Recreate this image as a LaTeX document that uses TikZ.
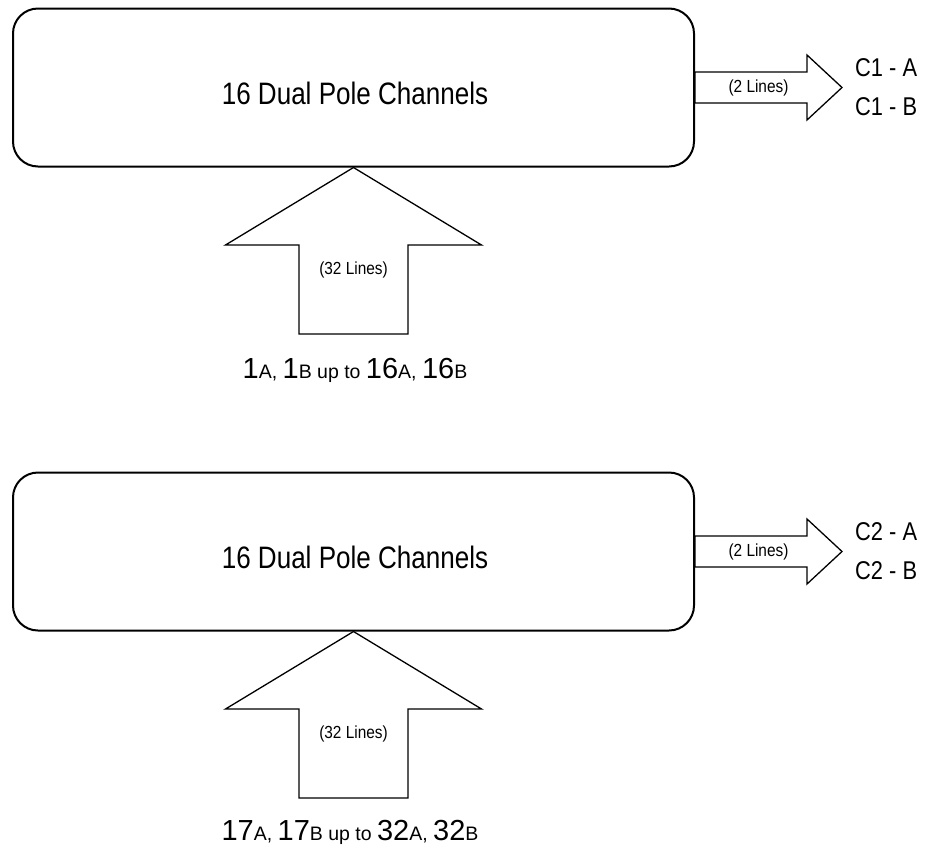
\documentclass[tikz,border=0pt]{standalone}
\usepackage{fontspec}
\setmainfont{Liberation Sans}
\newfontfamily\condtitle[FakeStretch=0.84]{Liberation Sans}
\newfontfamily\condout[FakeStretch=0.85]{Liberation Sans}
\newfontfamily\condsmall[FakeStretch=0.88]{Liberation Sans}
\newcommand\bigdig[1]{{\fontsize{29}{29}\selectfont #1}}
\newcommand\smlet[1]{{\fontsize{19.5}{19.5}\selectfont #1}}
\begin{document}
\begin{tikzpicture}[x=1pt,y=-1pt,
  chbox/.style={draw, line width=2pt, rounded corners=25pt, minimum width=681pt, minimum height=158pt, inner sep=0pt},
  fatarrow/.style={draw, line width=1.3pt, line join=miter, fill=white},
  titletext/.style={anchor=base, inner sep=0pt, font=\condtitle\fontsize{31}{31}\selectfont},
  outtext/.style={anchor=base west, inner sep=0pt, font=\condout\fontsize{25.7}{25.7}\selectfont},
  smalltext/.style={anchor=center, inner sep=0pt, font=\condsmall\fontsize{17.5}{17.5}\selectfont},
  intext/.style={anchor=base, inner sep=0pt}]
\useasboundingbox (0,0) rectangle (926,852);

% ---------- upper block ----------
\node[chbox] (box1) at (353.5,87.5) {};
\node[titletext] (title1) at (355,104) {16 Dual Pole Channels};
\draw[fatarrow] (box1.east) ++(0,-15.5) -- ++(112,0) -- ++(0,-17)
  -- ++(35,32.5) coordinate (tip1) -- ++(-35,32.5) -- ++(0,-17) -- ++(-112,0) -- cycle;
\node[smalltext] (lines1) at (758.5,88) {(2 Lines)};
\node[outtext] (c1a) at (855,76.7) {C1 - A};
\node[outtext] (c1b) at (855,115) {C1 - B};
\draw[fatarrow] (box1.south) -- ++(128,77.5) -- ++(-73.5,0) -- ++(0,89)
  -- ++(-109,0) -- ++(0,-89) -- ++(-73.5,0) -- cycle;
\node[smalltext] (in32a) at (353.5,270) {(32 Lines)};
\node[intext] (inputs1) at (355,378.7) {\bigdig{1}\smlet{A, }\bigdig{1}\smlet{B up to }\bigdig{16}\smlet{A, }\bigdig{16}\smlet{B}};

% ---------- lower block ----------
\node[chbox] (box2) at (353.5,551.5) {};
\node[titletext] (title2) at (355,568) {16 Dual Pole Channels};
\draw[fatarrow] (box2.east) ++(0,-15.5) -- ++(112,0) -- ++(0,-17)
  -- ++(35,32.5) coordinate (tip2) -- ++(-35,32.5) -- ++(0,-17) -- ++(-112,0) -- cycle;
\node[smalltext] (lines2) at (758.5,552) {(2 Lines)};
\node[outtext] (c2a) at (855,540.7) {C2 - A};
\node[outtext] (c2b) at (855,579) {C2 - B};
\draw[fatarrow] (box2.south) -- ++(128,77.5) -- ++(-73.5,0) -- ++(0,89)
  -- ++(-109,0) -- ++(0,-89) -- ++(-73.5,0) -- cycle;
\node[smalltext] (in32b) at (353.5,734) {(32 Lines)};
\node[intext] (inputs2) at (350,840) {\bigdig{17}\smlet{A, }\bigdig{17}\smlet{B up to }\bigdig{32}\smlet{A, }\bigdig{32}\smlet{B}};
\end{tikzpicture}
\end{document}
